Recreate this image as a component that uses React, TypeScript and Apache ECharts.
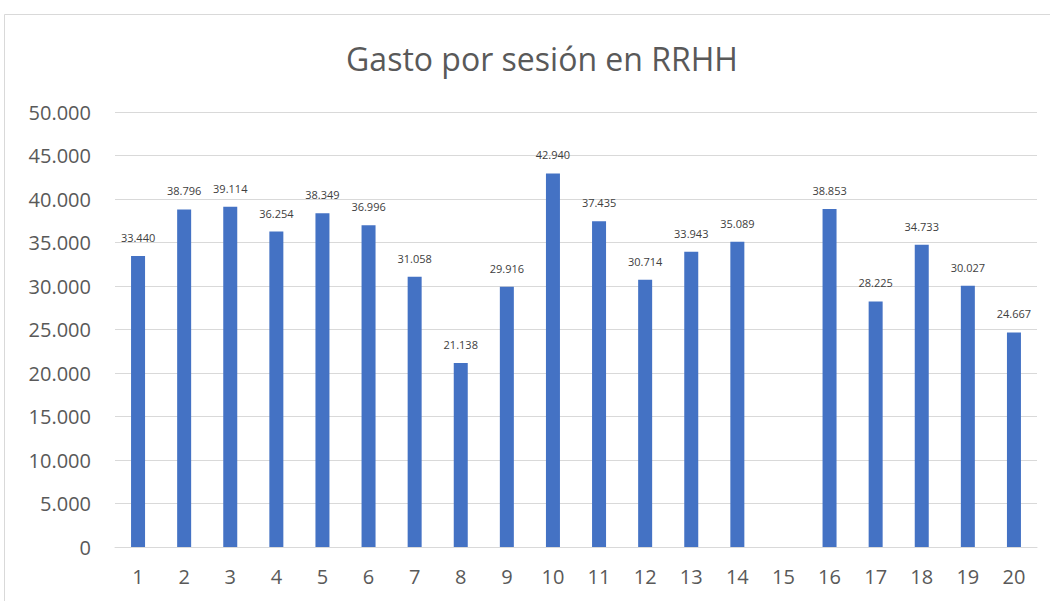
import React, { useEffect, useRef } from "react";
import * as echarts from "echarts";

const categories = ["1","2","3","4","5","6","7","8","9","10","11","12","13","14","15","16","17","18","19","20"];
const values: (number | null)[] = [33440, 38796, 39114, 36254, 38349, 36996, 31058, 21138, 29916, 42940, 37435, 30714, 33943, 35089, null, 38853, 28225, 34733, 30027, 24667];
const title = "Gasto por sesión en RRHH";

const fmt = (v: number) => {
  const s = Math.round(v).toString();
  return s.replace(/\B(?=(\d{3})+(?!\d))/g, ".");
};

const FONT = "'Open Sans', 'Noto Sans', sans-serif";

export default function App() {
  const ref = useRef<HTMLDivElement>(null);
  useEffect(() => {
    if (!ref.current) return;
    const chart = echarts.init(ref.current, undefined, { renderer: "svg" });
    chart.setOption({
      animation: false,
      backgroundColor: "#ffffff",
      title: {
        text: title,
        left: 537,
        textAlign: "center",
        top: 37,
        textStyle: { fontFamily: FONT, fontSize: 32, fontWeight: "normal", color: "#595959" },
      },
      graphic: [
        {
          type: "rect",
          shape: { x: 4.5, y: 14.5, width: 1100, height: 700 },
          style: { fill: "none", stroke: "#d9d9d9", lineWidth: 1 },
          silent: true,
          z: -1,
        },
      ],
      grid: { left: 115, right: 13, top: 112, bottom: 54 },
      xAxis: {
        type: "category",
        data: categories,
        axisLine: { show: true, lineStyle: { color: "#d9d9d9", width: 1 } },
        axisTick: { show: false },
        axisLabel: { fontFamily: FONT, fontSize: 20, color: "#595959", margin: 19 },
      },
      yAxis: {
        type: "value",
        min: 0,
        max: 50000,
        interval: 5000,
        axisLine: { show: false },
        axisTick: { show: false },
        splitLine: { show: true, lineStyle: { color: "#d9d9d9", width: 1 } },
        axisLabel: {
          fontFamily: FONT,
          fontSize: 20,
          color: "#595959",
          margin: 24,
          formatter: (v: number) => fmt(v),
        },
      },
      series: [
        {
          type: "bar",
          data: values,
          barWidth: 14,
          itemStyle: { color: "#4472C4" },
          label: {
            show: true,
            position: "top",
            distance: 13,
            fontFamily: FONT,
            fontSize: 11,
            color: "#404040",
            formatter: (p: any) => (p.value == null ? "" : fmt(p.value)),
          },
        },
      ],
    });
    return () => chart.dispose();
  }, []);
  return <div ref={ref} style={{ position: "fixed", left: 0, top: 0, width: 1050, height: 601 }} />;
}
